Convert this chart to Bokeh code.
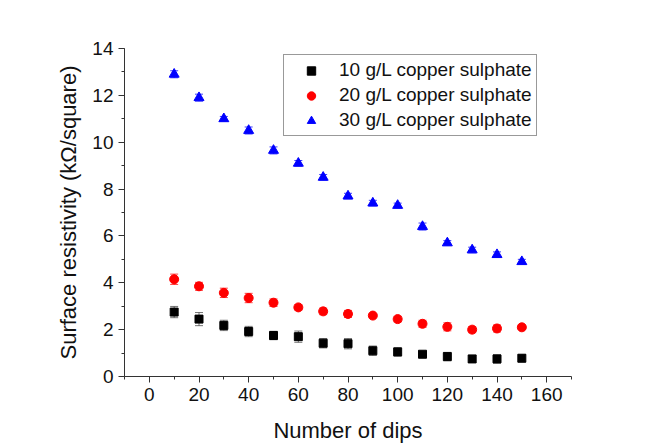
from bokeh.plotting import figure
from bokeh.models import (ColumnDataSource, Whisker, TeeHead, Legend, LegendItem,
                          SingleIntervalTicker, Range1d)
from bokeh.embed import file_html
from bokeh.resources import INLINE

dips = [10, 20, 30, 40, 50, 60, 70, 80, 90, 100, 110, 120, 130, 140, 150]
r10 = [2.75, 2.45, 2.18, 1.92, 1.75, 1.70, 1.42, 1.40, 1.10, 1.05, 0.95, 0.85, 0.75, 0.75, 0.78]
e10 = [0.24, 0.28, 0.22, 0.22, 0.18, 0.24, 0.20, 0.22, 0.20, 0.18, 0.12, 0.18, 0.15, 0.18, 0.15]
r20 = [4.15, 3.85, 3.57, 3.35, 3.15, 2.95, 2.78, 2.67, 2.60, 2.45, 2.25, 2.12, 2.00, 2.05, 2.10]
e20 = [0.22, 0.17, 0.20, 0.20, 0.16, 0.12, 0.14, 0.15, 0.10, 0.12, 0.15, 0.17, 0.13, 0.15, 0.10]
r30 = [12.90, 11.90, 11.00, 10.50, 9.65, 9.10, 8.50, 7.70, 7.40, 7.30, 6.40, 5.70, 5.40, 5.20, 4.90]
e30 = [0.15, 0.15, 0.10, 0.15, 0.15, 0.12, 0.12, 0.12, 0.12, 0.10, 0.15, 0.10, 0.12, 0.12, 0.10]
labels = ["10 g/L copper sulphate", "20 g/L copper sulphate", "30 g/L copper sulphate"]
colors = ["black", "red", "blue"]
markers = ["square", "circle", "triangle"]

FONT = "Liberation Sans"

p = figure(width=645, height=445, output_backend="svg", toolbar_location=None,
           x_range=Range1d(-10, 170), y_range=Range1d(0, 14),
           min_border_left=124, min_border_right=74, min_border_top=48, min_border_bottom=69)
p.outline_line_color = None
p.xgrid.visible = False
p.ygrid.visible = False
p.background_fill_color = "white"
p.border_fill_color = "white"

p.xaxis.ticker = SingleIntervalTicker(interval=20, num_minor_ticks=2)
p.yaxis.ticker = SingleIntervalTicker(interval=2, num_minor_ticks=2)
for ax in (p.xaxis[0], p.yaxis[0]):
    ax.axis_line_color = "#333333"
    ax.major_tick_line_color = "#333333"
    ax.minor_tick_line_color = "#333333"
    ax.major_tick_out = 6
    ax.major_tick_in = 0
    ax.minor_tick_out = 3
    ax.minor_tick_in = 0
    ax.major_label_text_font = FONT
    ax.major_label_text_font_size = "19px"
    ax.major_label_text_color = "#111111"
    ax.axis_label_text_font = FONT
    ax.axis_label_text_font_size = "22px"
    ax.axis_label_text_font_style = "normal"
    ax.axis_label_text_color = "#111111"
p.xaxis.axis_label = "Number of dips"
p.yaxis.axis_label = "Surface resistivity (k\u03a9/square)"
p.xaxis.axis_label_standoff = 14
p.yaxis.axis_label_standoff = 8
p.xaxis.major_label_standoff = 5
p.yaxis.major_label_standoff = 5

items = []
for ys, es, c, m, lab, sz in zip([r10, r20, r30], [e10, e20, e30], colors, markers, labels, [8, 9, 10]):
    src = ColumnDataSource(dict(x=dips, y=ys,
                                lo=[a - b for a, b in zip(ys, es)],
                                hi=[a + b for a, b in zip(ys, es)]))
    lc = "#444444" if c == "black" else c
    w = Whisker(source=src, base="x", lower="lo", upper="hi",
                line_color=lc, line_width=1, line_alpha=0.75,
                upper_head=TeeHead(size=8, line_color=lc, line_alpha=0.75),
                lower_head=TeeHead(size=8, line_color=lc, line_alpha=0.75))
    p.add_layout(w)
    r = p.scatter("x", "y", source=src, marker=m, size=sz, fill_color=c, line_color=c)
    items.append(LegendItem(label=lab, renderers=[r]))

legend = Legend(items=items, location=(159, 240))
legend.label_text_font = FONT
legend.label_text_font_size = "19px"
legend.label_text_color = "#111111"
legend.border_line_color = "#333333"
legend.border_line_width = 1
legend.background_fill_alpha = 1
legend.glyph_width = 46
legend.glyph_height = 21
legend.spacing = 3
legend.padding = 4
legend.margin = 0
legend.label_standoff = 5
p.add_layout(legend)

open("out.html", "w").write(file_html(p, INLINE))
